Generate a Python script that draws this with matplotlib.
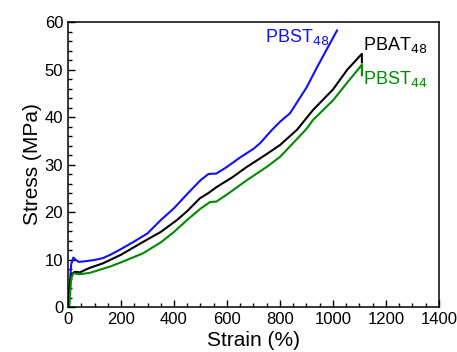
import matplotlib.pyplot as plt
from matplotlib.ticker import MultipleLocator

# PBST48 (blue)
pbst48_strain = [0, 3, 7, 12, 20, 30, 40, 60, 100, 132, 160, 200, 250, 300, 350, 400, 450,
                 500, 530, 560, 600, 650, 700, 725, 770, 800, 838, 900, 940, 1015]
pbst48_stress = [0, 2, 5, 9, 10.4, 9.9, 9.5, 9.6, 9.9, 10.3, 11, 12.2, 13.8, 15.5, 18.3, 20.8, 23.8,
                 26.7, 28, 28.1, 29.5, 31.5, 33.3, 34.5, 37.3, 39, 40.8, 46.2, 50.5, 58.2]

# PBAT48 (black)
pbat48_strain = [0, 4, 8, 14, 26, 45, 80, 132, 200, 283, 350, 411, 450, 498, 530, 562, 620,
                 675, 750, 800, 864, 925, 1000, 1053, 1109, 1109]
pbat48_stress = [0, 2, 5, 7, 7.4, 7.3, 8.2, 9.2, 11, 13.7, 15.8, 18.3, 20.2, 22.9, 24, 25.3, 27.3,
                 29.5, 32.2, 34.1, 37.3, 41.5, 45.8, 49.9, 53.3, 51.5]

# PBST44 (green)
pbst44_strain = [0, 5, 8, 12, 20, 45, 83, 158, 200, 283, 350, 400, 449, 500, 536, 560, 600,
                 675, 750, 800, 900, 925, 1000, 1053, 1109, 1109]
pbst44_stress = [0, 0, 3, 6, 7.1, 6.9, 7.2, 8.5, 9.4, 11.3, 13.6, 15.8, 18.3, 20.7, 22.1, 22.2, 23.7,
                 26.7, 29.5, 31.6, 37.5, 39.4, 43.5, 47.2, 51, 48.8]

plt.rcParams['font.family'] = ['Liberation Sans', 'DejaVu Sans']

fig = plt.figure(figsize=(4.57, 3.52), dpi=100)
ax = fig.add_axes([0.1488, 0.1278, 0.8118, 0.8097])

ax.plot(pbst48_strain, pbst48_stress, color='#1010ff', lw=1.5)
ax.plot(pbat48_strain, pbat48_stress, color='black', lw=1.5)
ax.plot(pbst44_strain, pbst44_stress, color='#008c00', lw=1.5)

ax.text(743, 56.8, 'PBST$_{48}$', color='#1010ff', fontsize=13, va='center')
ax.text(1113, 55.2, 'PBAT$_{48}$', color='black', fontsize=13, va='center')
ax.text(1113, 48.0, 'PBST$_{44}$', color='#008c00', fontsize=13, va='center')

ax.set_xlim(0, 1400)
ax.set_ylim(0, 60)
ax.xaxis.set_major_locator(MultipleLocator(200))
ax.xaxis.set_minor_locator(MultipleLocator(50))
ax.yaxis.set_major_locator(MultipleLocator(10))
ax.yaxis.set_minor_locator(MultipleLocator(2))
ax.tick_params(which='both', direction='in', labelsize=12, width=1)
ax.tick_params(which='major', length=5)
ax.tick_params(which='minor', length=3)
for s in ax.spines.values():
    s.set_linewidth(1.1)

ax.set_xlabel('Strain (%)', fontsize=15, labelpad=3)
ax.set_ylabel('Stress (MPa)', fontsize=15, labelpad=2)

fig.savefig('out.png', dpi=100)
